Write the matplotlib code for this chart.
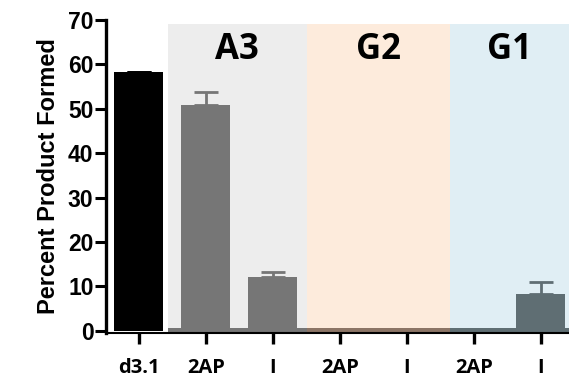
import matplotlib.pyplot as plt

# Percent product formed per substrate, grouped by lesion site
labels = ['d3.1', '2AP', 'I', '2AP', 'I', '2AP', 'I']
values = [58.2, 50.8, 12.0, 0.0, 0.0, 0.0, 8.3]
errors = [0.2, 3.0, 1.2, 0.0, 0.0, 0.0, 2.7]
bar_colors = ['#000000', '#767676', '#767676', '#8c7566', '#8c7566', '#5f6e73', '#5f6e73']

groups = ['A3', 'G2', 'G1']
group_spans = [(0.43, 2.51), (2.51, 4.64), (4.64, 6.42)]
group_fill = ['#ededed', '#fdebdc', '#e0eef4']
group_edge = ['#767676', '#8c7566', '#5f6e73']

fig = plt.figure(figsize=(5.69, 3.81), dpi=100)
ax = fig.add_axes([0.1863, 0.126, 0.8137, 0.8215])

x = list(range(len(labels)))

# shaded panels behind each group
for (x0, x1), fc, ec, name in zip(group_spans, group_fill, group_edge, groups):
    ax.fill_between([x0, x1], 0, 69, color=fc, lw=0, zorder=0)
    ax.fill_between([x0, x1], -0.2, 0.6, color=ec, lw=0, zorder=1)
    ax.text((x0 + x1) / 2, 63.3, name, ha='center', va='center',
            fontsize=25, fontweight='bold', family='Open Sans', zorder=3)

ax.bar(x, values, width=0.73, color=bar_colors, zorder=2)
for xi, v, e, c in zip(x, values, errors, bar_colors):
    if v > 0:
        ax.errorbar(xi, v, yerr=[[0], [e]], fmt='none', ecolor=c,
                    elinewidth=2, capsize=8.5, capthick=2, zorder=2)

ax.set_xlim(-0.49, 6.42)
ax.set_ylim(-0.5, 70)
ax.set_yticks(range(0, 71, 10))
ax.set_xticks(x)
ax.set_xticklabels(labels, fontsize=14.5, fontweight='bold', family='Open Sans')
for t in ax.get_yticklabels():
    t.set_fontsize(16.5)
    t.set_fontweight('bold')
    t.set_family('Liberation Sans')

ax.spines['top'].set_visible(False)
ax.spines['right'].set_visible(False)
ax.spines['left'].set_linewidth(2.4)
ax.spines['bottom'].set_linewidth(1.5)
ax.spines['left'].set_bounds(-0.5, 70)
ax.tick_params(axis='y', length=8, width=2.2, pad=1)
ax.tick_params(axis='x', length=8, width=2.4, pad=10)

ax.set_ylabel('Percent Product Formed', fontsize=17, fontweight='bold',
              family='Liberation Sans', labelpad=6)

fig.savefig('out.png', dpi=100)
